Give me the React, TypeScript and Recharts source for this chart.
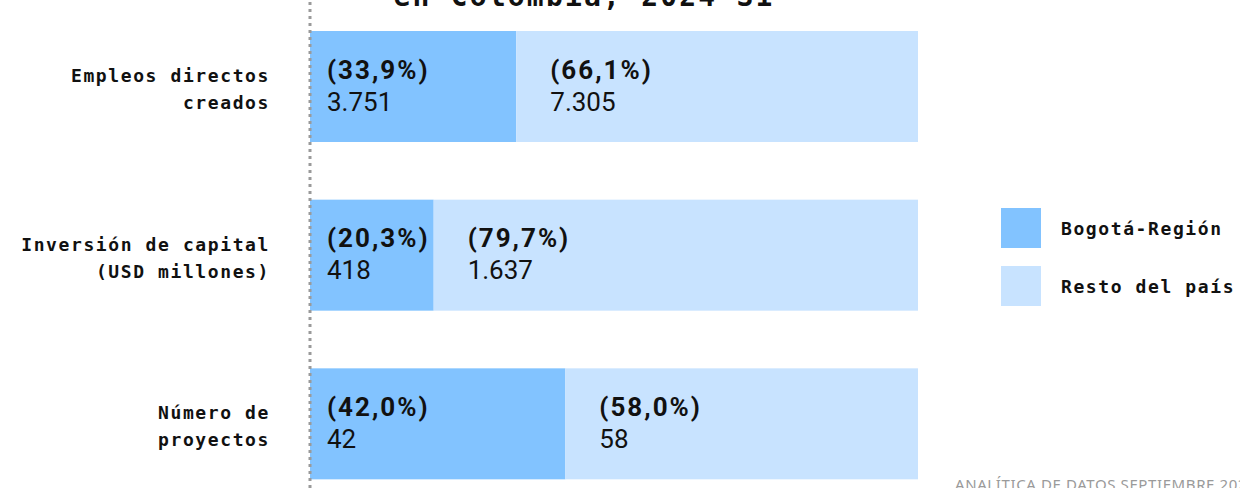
import { BarChart, Bar, XAxis, YAxis } from 'recharts';

const categories = ['Empleos directos creados', 'Inversión de capital (USD millones)', 'Número de proyectos'];
const categoryLines = [
  ['Empleos directos', 'creados'],
  ['Inversión de capital', '(USD millones)'],
  ['Número de', 'proyectos'],
];
const bogotaValues = [3751, 418, 42];
const restoValues = [7305, 1637, 58];
const seriesNames = ['Bogotá-Región', 'Resto del país'];

const COLORS = ['#82c3ff', '#c8e3ff'];
const MONO = '"DejaVu Sans Mono", monospace';
const SANS = 'Roboto, "Noto Sans", sans-serif';

const data = categories.map((name, i) => ({
  name,
  bogota: bogotaValues[i],
  resto: restoValues[i],
}));

const fmtNum = (v: number) => String(v).replace(/\B(?=(\d{3})+(?!\d))/g, '.');
const fmtPct = (v: number, total: number) => '(' + ((v / total) * 100).toFixed(1).replace('.', ',') + '%)';

const makeShape = (key: 'bogota' | 'resto', color: string, padX: number) => (props: any) => {
  const { x, y, width, height, payload } = props;
  const total = payload.bogota + payload.resto;
  const v = payload[key];
  const cy = y + height / 2;
  return (
    <g>
      <rect x={x} y={y} width={width} height={height} fill={color} />
      <text
        x={x + padX}
        y={cy - 17}
        dominantBaseline="central"
        fontFamily={SANS}
        fontWeight={700}
        fontSize={26}
        letterSpacing={2}
        fill="#111"
      >
        {fmtPct(v, total)}
      </text>
      <text x={x + padX} y={cy + 15} dominantBaseline="central" fontFamily={SANS} fontSize={26} fill="#111">
        {fmtNum(v)}
      </text>
    </g>
  );
};

const CategoryTick = (props: any) => {
  const { x, y, payload } = props;
  const idx = categories.indexOf(payload.value);
  const lines = categoryLines[idx] || [payload.value];
  return (
    <g>
      {lines.map((line, i) => (
        <text
          key={i}
          x={x}
          y={y - 11 + i * 27}
          textAnchor="end"
          dominantBaseline="central"
          fontFamily={MONO}
          fontWeight={700}
          fontSize={18}
          letterSpacing={1.6}
          fill="#111"
        >
          {line}
        </text>
      ))}
    </g>
  );
};

export default function App() {
  return (
    <div
      style={{
        position: 'fixed',
        top: 0,
        left: 0,
        width: 1240,
        height: 488,
        overflow: 'hidden',
        background: '#fff',
      }}
    >
      <div
        style={{
          position: 'absolute',
          left: 0,
          width: 1168,
          top: -18,
          textAlign: 'center',
          fontFamily: MONO,
          fontWeight: 700,
          fontSize: 28,
          lineHeight: '30px',
          letterSpacing: 2.2,
          color: '#111',
          zIndex: 2,
        }}
      >
        en Colombia, 2024-S1
      </div>
      <BarChart
        width={1240}
        height={510}
        data={data}
        layout="vertical"
        stackOffset="expand"
        margin={{ top: 2, right: 322, bottom: 2, left: 0 }}
      >
        <XAxis type="number" domain={[0, 1]} hide />
        <YAxis
          type="category"
          dataKey="name"
          width={310}
          tickLine={false}
          tickSize={0}
          tickMargin={40}
          axisLine={{ stroke: '#9a9a9a', strokeWidth: 3, strokeDasharray: '3 4' }}
          tick={<CategoryTick />}
        />
        <Bar
          dataKey="bogota"
          name={seriesNames[0]}
          stackId="a"
          fill={COLORS[0]}
          barSize={111}
          isAnimationActive={false}
          shape={makeShape('bogota', COLORS[0], 17)}
        />
        <Bar
          dataKey="resto"
          name={seriesNames[1]}
          stackId="a"
          fill={COLORS[1]}
          barSize={111}
          isAnimationActive={false}
          shape={makeShape('resto', COLORS[1], 34)}
        />
      </BarChart>
      {seriesNames.map((n, i) => (
        <div
          key={n}
          style={{ position: 'absolute', left: 1001, top: 208 + i * 58, display: 'flex', alignItems: 'center' }}
        >
          <div style={{ width: 40, height: 40, background: COLORS[i] }} />
          <span
            style={{
              marginLeft: 20,
              fontFamily: MONO,
              fontWeight: 700,
              fontSize: 18,
              letterSpacing: 1.6,
              color: '#111',
              whiteSpace: 'nowrap',
            }}
          >
            {n}
          </span>
        </div>
      ))}
      <div
        style={{
          position: 'absolute',
          left: 955,
          top: 474,
          fontFamily: '"Noto Sans", sans-serif',
          fontSize: 15,
          letterSpacing: 0.6,
          color: '#9a9a9a',
          whiteSpace: 'nowrap',
        }}
      >
        ANALÍTICA DE DATOS SEPTIEMBRE 2024
      </div>
    </div>
  );
}
